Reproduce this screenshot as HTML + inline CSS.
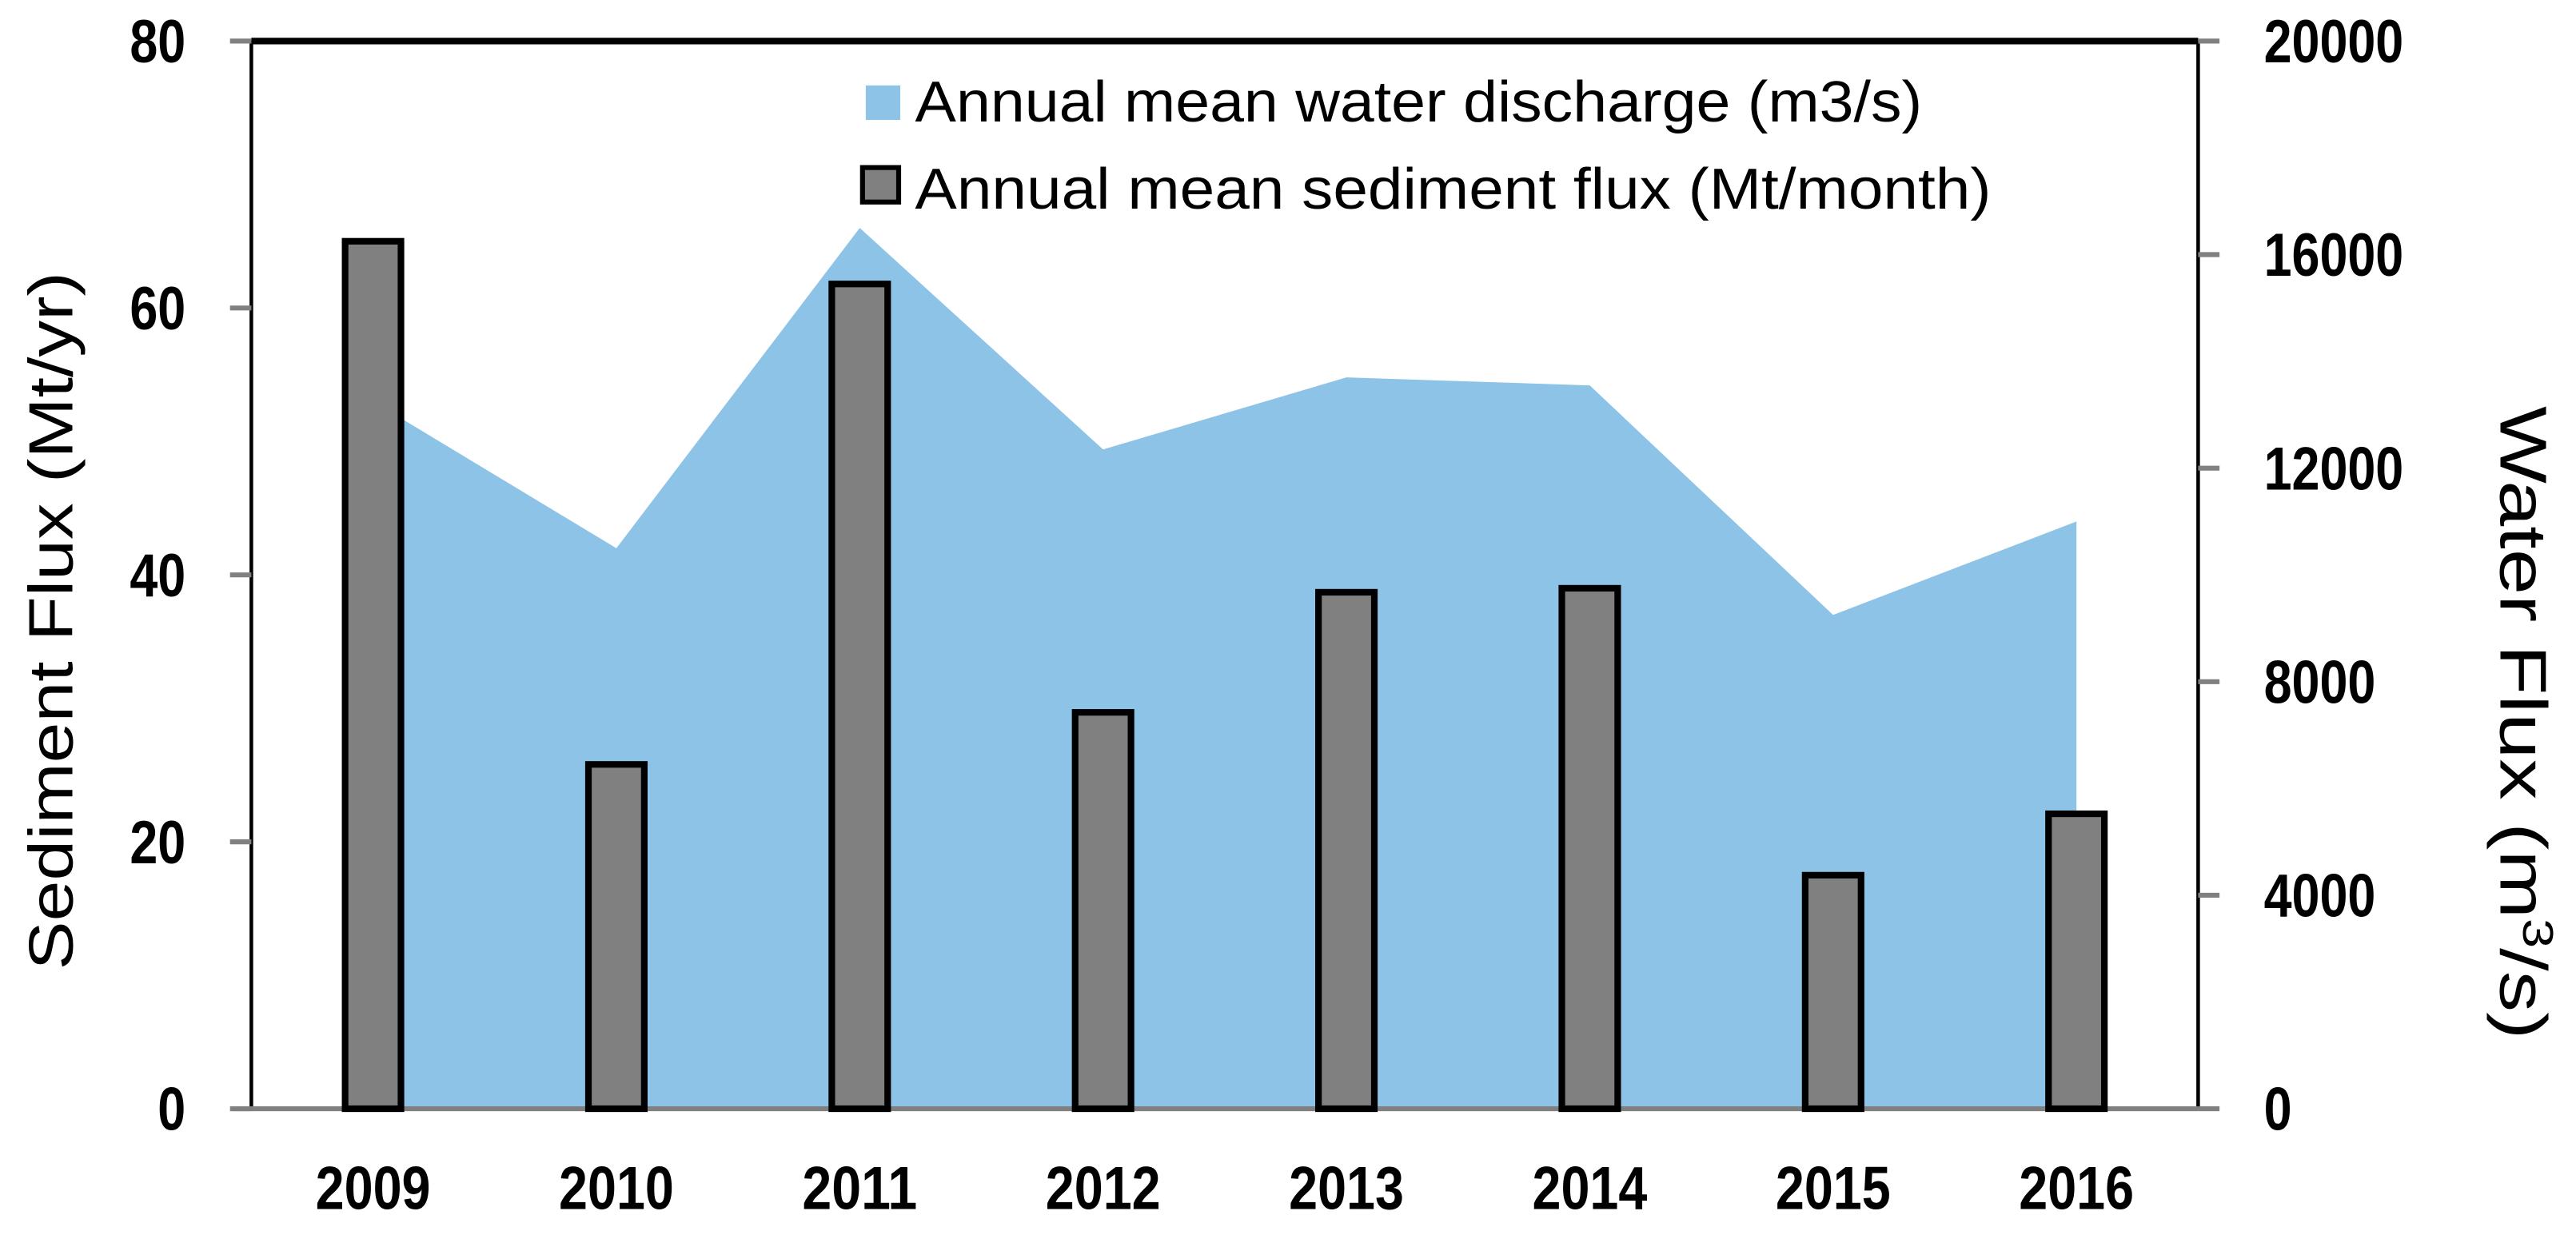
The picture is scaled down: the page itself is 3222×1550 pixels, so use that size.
<!DOCTYPE html>
<html><head><meta charset="utf-8"><style>html,body{margin:0;padding:0;background:#fff}svg{display:block}</style></head>
<body>
<svg id="chart" width="3222" height="1550" viewBox="0 0 1568 754.3" xmlns="http://www.w3.org/2000/svg" font-family="'Liberation Sans', sans-serif">
</svg>
<script>
const categories = ["2009","2010","2011","2012","2013","2014","2015","2016"];
const sedimentFlux = [65, 25.8, 61.8, 29.7, 38.7, 39, 17.5, 22.1];
const waterDischarge = [13250, 10500, 16500, 12350, 13700, 13550, 9250, 11000];
const leftTicks = [0, 20, 40, 60, 80];
const rightTicks = [0, 4000, 8000, 12000, 16000, 20000];

const NS = "http://www.w3.org/2000/svg";
const chartSvg = document.getElementById("chart");
const PL = 153, PR = 1338, PT = 25, PB = 675;
const band = (PR - PL) / categories.length;
const xC = i => PL + band * (i + 0.5);
const yL = v => PB - v / 80 * (PB - PT);
const yR = v => PB - v / 20000 * (PB - PT);
function mk(tag, attrs) {
  const e = document.createElementNS(NS, tag);
  for (const k in attrs) e.setAttribute(k, attrs[k]);
  chartSvg.appendChild(e);
  return e;
}
const DIGIT_W = 17;

// area
let areaD = "M" + xC(0) + "," + PB;
waterDischarge.forEach((v, i) => { areaD += " L" + xC(i) + "," + yR(v); });
areaD += " L" + xC(categories.length - 1) + "," + PB + " Z";
const area = mk("path", {d: areaD, fill: "#8dc3e6"});



// frame
const topBorder = mk("line", {x1: PL, y1: PT, x2: PR, y2: PT, stroke: "#000", "stroke-width": 4});


const leftAxis = mk("line", {x1: PL, y1: PT, x2: PL, y2: PB, stroke: "#000", "stroke-width": 2.2});


const rightAxis = mk("line", {x1: PR, y1: PT, x2: PR, y2: PB, stroke: "#000", "stroke-width": 2.2});


const xAxis = mk("line", {x1: PL - 12, y1: PB, x2: PR, y2: PB, stroke: "#808080", "stroke-width": 3});



// bars
sedimentFlux.forEach((v, i) => {
  const w = 34;
  const r = mk("rect", {x: xC(i) - w / 2, y: yL(v), width: w, height: PB - yL(v), fill: "#808080", stroke: "#000", "stroke-width": 4});
  
  
  const t = mk("text", {x: xC(i), y: 736, "text-anchor": "middle", "font-size": 37, "font-weight": "bold", textLength: 70, lengthAdjust: "spacingAndGlyphs"});
  t.textContent = categories[i];
  
  
});

// left ticks
leftTicks.forEach(v => {
  const tk = mk("line", {x1: PL - 13, y1: yL(v), x2: PL, y2: yL(v), stroke: "#808080", "stroke-width": 3});
  
  
  const s = String(v);
  const t = mk("text", {x: 113, y: yL(v) + 13, "text-anchor": "end", "font-size": 37, "font-weight": "bold", textLength: s.length * DIGIT_W, lengthAdjust: "spacingAndGlyphs"});
  t.textContent = s;
  
  
});
// right ticks
rightTicks.forEach(v => {
  const tk = mk("line", {x1: PR, y1: yR(v), x2: PR + 13, y2: yR(v), stroke: "#808080", "stroke-width": 3});
  
  
  const s = String(v);
  const t = mk("text", {x: 1378, y: yR(v) + 13, "text-anchor": "start", "font-size": 37, "font-weight": "bold", textLength: s.length * DIGIT_W, lengthAdjust: "spacingAndGlyphs"});
  t.textContent = s;
  
  
});

// axis titles
const leftTitle = mk("text", {x: 0, y: 0, "text-anchor": "middle", "font-size": 38, textLength: 425, lengthAdjust: "spacingAndGlyphs", transform: "translate(44,378) rotate(-90)"});
leftTitle.textContent = "Sediment Flux (Mt/yr)";


const rightTitle = mk("text", {x: 0, y: 0, "text-anchor": "middle", "font-size": 40, transform: "translate(1522,440) rotate(90) scale(1.25,1)"});
rightTitle.innerHTML = 'Water Flux (m<tspan dy="-14" font-size="26">3</tspan><tspan dy="14">/s)</tspan>';



// legend
const sw1 = mk("rect", {x: 527, y: 52, width: 21, height: 21, fill: "#8dc3e6"});


const lab1 = mk("text", {x: 557, y: 74, "font-size": 35, textLength: 613, lengthAdjust: "spacingAndGlyphs"});
lab1.textContent = "Annual mean water discharge (m3/s)";


const sw2 = mk("rect", {x: 525, y: 102, width: 22, height: 21, fill: "#808080", stroke: "#000", "stroke-width": 3});


const lab2 = mk("text", {x: 557, y: 127, "font-size": 35, textLength: 655, lengthAdjust: "spacingAndGlyphs"});
lab2.textContent = "Annual mean sediment flux (Mt/month)";


</script>
</body></html>
